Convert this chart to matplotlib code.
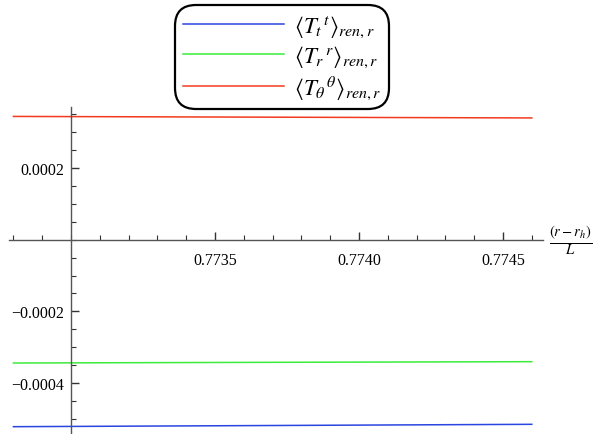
import matplotlib
matplotlib.use("Agg")
import matplotlib.pyplot as plt
from matplotlib.ticker import MultipleLocator, FuncFormatter

# =========================
# DATA
# =========================
x_vals = [0.77280, 0.77370, 0.77460]
T_tt = [-0.0005216, -0.0005183, -0.0005150]
T_rr = [-0.0003440, -0.0003421, -0.0003403]
T_thth = [0.0003437, 0.0003416, 0.0003395]

x_ticks = [0.7735, 0.7740, 0.7745]
y_ticks = [-0.0004, -0.0002, 0.0002]

labels = [r"$\langle {T_t}^{\,t}\rangle_{ren,r}$",
          r"$\langle {T_r}^{\,r}\rangle_{ren,r}$",
          r"$\langle {T_\theta}^{\,\theta}\rangle_{ren,r}$"]
colors = ["#2a45e0", "#3cec3c", "#f23a1e"]

plt.rcParams["font.family"] = ["Liberation Serif", "DejaVu Serif"]
plt.rcParams["mathtext.fontset"] = "stix"

fig = plt.figure(figsize=(5.98, 4.35), dpi=100)
ax = fig.add_axes([9.1 / 598, 0.0, 534.2 / 598, 327 / 435])

for ys, c, lab in zip([T_tt, T_rr, T_thth], colors, labels):
    ax.plot(x_vals, ys, color=c, lw=1.1, label=lab)

ax.set_xlim(0.772785, 0.77464)
ax.set_ylim(-0.000542, 0.000370)

# Mathematica-style axes crossing at (0.7730, 0)
ax.spines["left"].set_position(("data", 0.7730))
ax.spines["bottom"].set_position(("data", 0.0))
ax.spines["top"].set_visible(False)
ax.spines["right"].set_visible(False)
for s in ("left", "bottom"):
    ax.spines[s].set_color("#555555")
    ax.spines[s].set_linewidth(1.0)

ax.set_xticks(x_ticks)
ax.set_yticks(y_ticks)
ax.xaxis.set_minor_locator(MultipleLocator(0.0001))
ax.yaxis.set_minor_locator(MultipleLocator(0.00005))
ax.xaxis.set_major_formatter(FuncFormatter(lambda v, p: f"{v:.4f}"))
ax.yaxis.set_major_formatter(FuncFormatter(lambda v, p: f"{v:.4f}".replace("-", "\u2212")))
ax.tick_params(which="major", direction="in", length=6, width=1, color="#333333",
               labelsize=11.5, pad=5)
ax.tick_params(which="minor", direction="in", length=3.5, width=0.8, color="#333333")
ax.tick_params(axis="x", pad=9)

ax.annotate(r"$\frac{(r-r_h)}{L}$", xy=(1.0, 0.0), xycoords=("axes fraction", "data"),
            xytext=(4, 0), textcoords="offset points", ha="left", va="center", fontsize=15)

leg = ax.legend(loc="upper center", bbox_to_anchor=(282 / 598, 1.0),
                bbox_transform=fig.transFigure, fontsize=16.5, handlelength=4.4,
                frameon=True, fancybox=True, edgecolor="black", framealpha=1,
                labelspacing=0.2, borderpad=0.12, handletextpad=0.45)
leg.get_frame().set_linewidth(1.6)
leg.get_frame().set_boxstyle("round,pad=0.22,rounding_size=0.9")

fig.savefig("out.png", dpi=100)
